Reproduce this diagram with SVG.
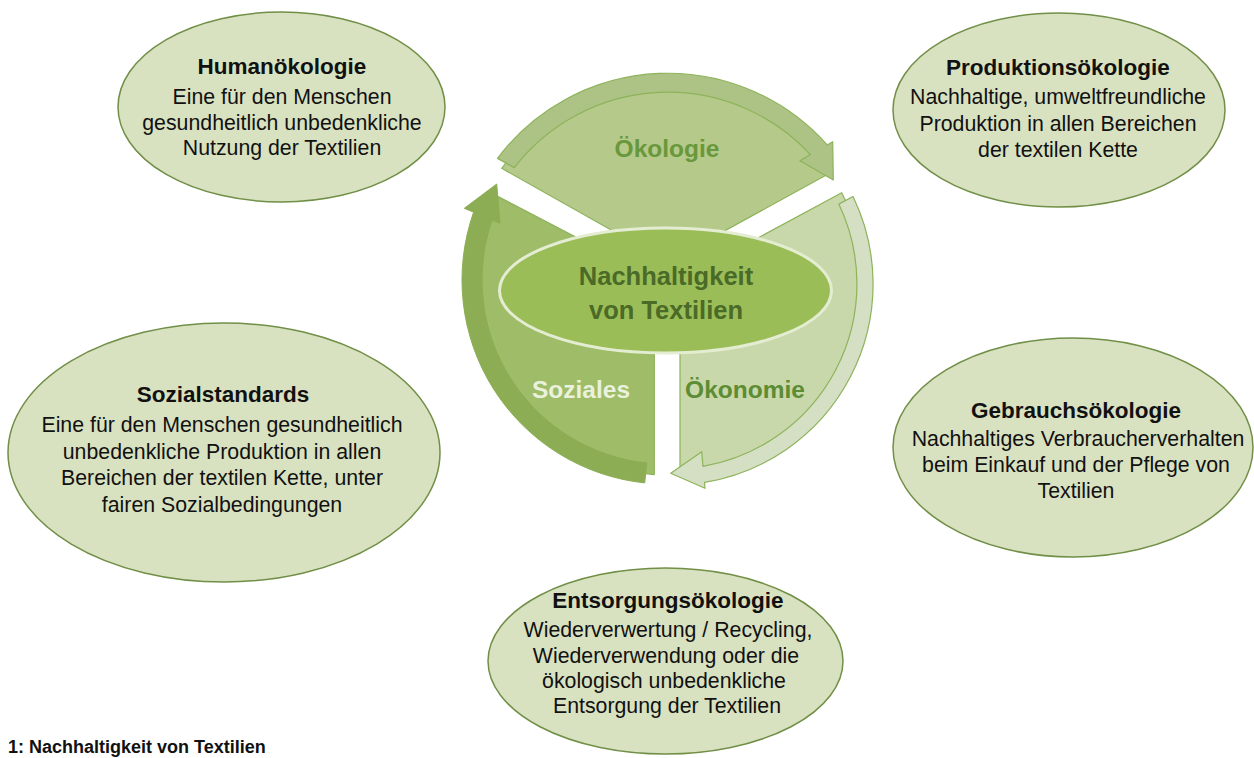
<svg xmlns="http://www.w3.org/2000/svg" width="1254" height="758" viewBox="0 0 1254 758">
<style>
.node{fill:#d9e2c0;stroke:#718f47;stroke-width:1.5}
.t{font-family:"Liberation Sans",Arial,sans-serif;text-anchor:middle;fill:#111}
.ti{font-weight:bold;font-size:22.5px}
.b{font-size:21.3px}
.seg{font-family:"Liberation Sans",Arial,sans-serif;font-weight:bold;font-size:24.5px;text-anchor:middle}
.edge{stroke:#8db35a;stroke-width:1.2;stroke-linejoin:round}
</style>
<rect width="1254" height="758" fill="#ffffff"/>

<g id="cycle">
  <g id="oekologie">
    <path class="edge" fill="#b5c98a" d="M501.7,168.3 L668,262 L830,173 A203 203 0 0 0 501.7,168.3 Z"/>
    <path class="edge" fill="#adc386" d="M497.5,158.4 A213 213 0 0 1 827.2,144.9 L832.7,141.7 L833.3,180 L800,160.7 L810.4,154.6 A194 194 0 0 0 514.3,167.6 Z"/>
    <text class="seg" x="667" y="157" fill="#68983b">Ökologie</text>
  </g>
  <g id="oekonomie">
    <path class="edge" fill="#c9d8aa" d="M841.7,192.7 L680,280 L680,475.8 A192 192 0 0 0 841.7,192.7 Z"/>
    <path class="edge" fill="#d4dfc4" d="M853,196.5 A201 201 0 0 1 704.5,482.4 L705,488.3 L670.7,473.3 L701.7,451.7 L703,466.3 A185 185 0 0 0 838.8,204.1 Z"/>
    <text class="seg" x="745" y="398" fill="#5c8c33">Ökonomie</text>
  </g>
  <g id="soziales">
    <path class="edge" fill="#9fbc68" d="M491.4,193.1 L654.3,278 L654.3,474.6 A195 195 0 0 1 491.4,193.1 Z"/>
    <path fill="#8cad54" stroke="#8cad54" stroke-width="1" d="M644.7,482.9 A204 204 0 0 1 473.6,212.2 L464.3,208.3 L496.7,184 L500,223.3 L492.1,220 A184 184 0 0 0 646.8,463 Z"/>
    <text class="seg" x="581" y="398" fill="#eaf1dc">Soziales</text>
  </g>
  <g id="center">
    <ellipse cx="665.5" cy="290.5" rx="166" ry="62.5" fill="#9bbd58" stroke="#e4edd2" stroke-width="3"/>
    <text class="seg" x="666" y="285" fill="#4a6a27" style="font-size:25.5px">Nachhaltigkeit</text>
    <text class="seg" x="666" y="319" fill="#4a6a27" style="font-size:25.5px">von Textilien</text>
  </g>
</g>

<g id="connectors"></g>

<g id="humanoekologie">
  <ellipse class="node" cx="281.5" cy="107" rx="163.5" ry="95"/>
  <text class="t ti" x="282" y="74">Humanökologie</text>
  <text class="t b" x="282" y="104">Eine für den Menschen</text>
  <text class="t b" x="282" y="130">gesundheitlich unbedenkliche</text>
  <text class="t b" x="282" y="155">Nutzung der Textilien</text>
</g>

<g id="produktionsoekologie">
  <ellipse class="node" cx="1059" cy="110" rx="166" ry="97"/>
  <text class="t ti" x="1058" y="75">Produktionsökologie</text>
  <text class="t b" x="1058" y="104">Nachhaltige, umweltfreundliche</text>
  <text class="t b" x="1058" y="130.5">Produktion in allen Bereichen</text>
  <text class="t b" x="1058" y="157">der textilen Kette</text>
</g>

<g id="sozialstandards">
  <ellipse class="node" cx="224" cy="452.5" rx="216" ry="129.5"/>
  <text class="t ti" x="223" y="402">Sozialstandards</text>
  <text class="t b" x="222" y="432">Eine für den Menschen gesundheitlich</text>
  <text class="t b" x="222" y="458.5">unbedenkliche Produktion in allen</text>
  <text class="t b" x="222" y="485">Bereichen der textilen Kette, unter</text>
  <text class="t b" x="222" y="511.5">fairen Sozialbedingungen</text>
</g>

<g id="gebrauchsoekologie">
  <ellipse class="node" cx="1073" cy="447.5" rx="180" ry="109.5"/>
  <text class="t ti" x="1076" y="417.5">Gebrauchsökologie</text>
  <text class="t b" x="1078" y="446">Nachhaltiges Verbraucherverhalten</text>
  <text class="t b" x="1076" y="472">beim Einkauf und der Pflege von</text>
  <text class="t b" x="1076" y="498">Textilien</text>
</g>

<g id="entsorgungsoekologie">
  <ellipse class="node" cx="665.5" cy="661" rx="177.5" ry="93"/>
  <text class="t ti" x="668" y="608">Entsorgungsökologie</text>
  <text class="t b" x="668" y="637">Wiederverwertung / Recycling,</text>
  <text class="t b" x="666" y="662.5">Wiederverwendung oder die</text>
  <text class="t b" x="664" y="688">ökologisch unbedenkliche</text>
  <text class="t b" x="667" y="713">Entsorgung der Textilien</text>
</g>

<text class="t" x="8" y="753" style="text-anchor:start;font-weight:bold;font-size:18px">1: Nachhaltigkeit von Textilien</text>
</svg>
